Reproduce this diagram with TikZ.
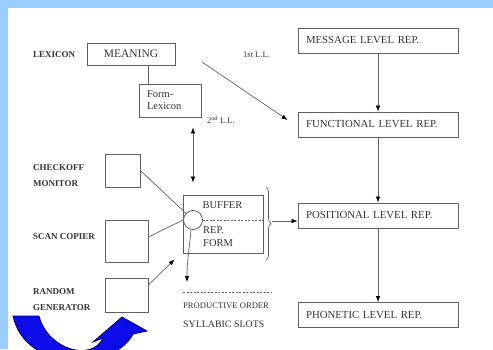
\documentclass[tikz,border=0pt]{standalone}
\usepackage{fontspec}
\setmainfont{Liberation Serif}
\usetikzlibrary{arrows.meta,calc,decorations.pathreplacing,positioning}

\definecolor{skyback}{RGB}{153,204,255}
\definecolor{turnblue}{RGB}{12,12,235}
\definecolor{turnedge}{RGB}{0,0,110}
\definecolor{inkgray}{RGB}{95,95,95}

\begin{document}
\begin{tikzpicture}[x=1pt, y=-1pt, every node/.style={text=black!80},
  lvlbox/.style={draw=inkgray, line width=0.8pt, text width=144pt, inner xsep=8pt, inner ysep=0pt,
    minimum height=25pt, align=left, font=\fontsize{10.8}{12}\selectfont},
  sidebox/.style={draw=inkgray, line width=0.8pt, inner sep=0pt},
  sidelbl/.style={anchor=west, align=left, inner sep=0pt, font=\bfseries\fontsize{9}{16}\selectfont},
  plain/.style={anchor=west, inner sep=0pt},
  link/.style={draw=inkgray, line width=0.7pt},
  arr/.style={link, -{Latex[length=6pt,width=4.5pt,color=black]}}]
  \useasboundingbox (0,0) rectangle (493,349);
  \fill[skyback] (0,0) rectangle (493,349);
  \fill[white] (8,8) rectangle (493,349);

  % levels of representation
  \node[lvlbox] (msg) at (378,40.5) {MESSAGE LEVEL REP.};
  \node[lvlbox] (func) at (378,124.5) {FUNCTIONAL LEVEL REP.};
  \node[lvlbox] (pos) at (378,215.5) {POSITIONAL LEVEL REP.};
  \node[lvlbox] (phon) at (378,315) {PHONETIC LEVEL REP.};
  \draw[arr] (msg) -- (func);
  \draw[arr] (func) -- (pos);
  \draw[arr] (pos) -- (phon);

  % lexicon
  \node[sidelbl] (lex) at (33,55) {LEXICON};
  \node[sidebox, minimum width=88pt, minimum height=22pt, font=\fontsize{11.5}{12}\selectfont] (mean) at (131,54) {MEANING};
  \node[sidebox, text width=46pt, inner xsep=8pt, minimum height=33pt, align=left,
    font=\fontsize{10.5}{12}\selectfont] (flex) at (170,100.5) {Form-\\Lexicon};
  \draw[link] ($(flex.north west)+(10,0)$) -- ($(flex.north west |- mean.south)+(10,0)$);
  \node[plain, font=\fontsize{8.5}{9}\selectfont] (ll1) at (243,55) {1st L.L.};
  \node[plain, font=\fontsize{8.5}{9}\selectfont] (ll2) at (207,120) {2\textsuperscript{nd} L.L.};
  \coordinate (ll1s) at (202,62);
  \draw[arr] (ll1s) -- ($(func.west)+(-10,-4.5)$);

  % monitors
  \node[sidebox, minimum width=35pt, minimum height=33pt] (chk) at (122.5,170.5) {};
  \node[sidebox, minimum width=43pt, minimum height=42pt] (scan) at (126.5,241) {};
  \node[sidebox, minimum width=43pt, minimum height=34pt] (rnd) at (126.5,295) {};
  \node[sidelbl] (chklbl) at (33,175.5) {CHECKOFF\\MONITOR};
  \node[sidelbl] (scanlbl) at (33,237) {SCAN COPIER};
  \node[sidelbl] (rndlbl) at (33,300) {RANDOM\\GENERATOR};

  % buffer
  \node[sidebox, minimum width=80pt, minimum height=58pt] (buf) at (223,224) {};
  \node[circle, draw=inkgray, line width=0.8pt, fill=white, minimum size=19pt, inner sep=0pt] (circ) at (193,220) {};
  \node[inner sep=0pt, font=\fontsize{10.5}{12}\selectfont] (bufl) at (222.5,205) {BUFFER};
  \node[plain, align=left, font=\fontsize{10.5}{13}\selectfont] (repl) at (203,236.5) {REP.\\FORM};
  \draw[link, dash pattern=on 2pt off 1.5pt] (circ.east) -- (circ.east -| buf.east);
  \coordinate (brt) at (266,187);
  \coordinate (brb) at (266,260);
  \draw[link, decorate, decoration={brace, amplitude=5pt}] (brt) -- (brb);
  \coordinate (brtip) at (272,221);
  \draw[arr] (brtip) -- (brtip -| pos.west);
  \draw[link, {Latex[length=6pt,width=4.5pt,color=black]}-{Latex[length=6pt,width=4.5pt,color=black]}]
    ($(circ |- flex.south)+(0,10)$) -- ($(circ |- buf.north)+(0,-12)$);
  \draw[link] (chk.east) -- (circ);
  \draw[link] ($(scan.east)+(0,-4)$) -- (circ.west);
  \draw[arr] ($(rnd.east)+(0,-10)$) -- ($(buf.south west)+(-8,6)$);

  % output slots
  \coordinate (dl) at (183,292);
  \coordinate (dr) at (272,292);
  \draw[link, dash pattern=on 2pt off 1.5pt] (dl) -- (dr);
  \draw[arr] ($(circ.south)+(-2,0)$) to[out=-95, in=90] ($(dl)+(4,-10)$);
  \node[plain, font=\fontsize{8.6}{10}\selectfont] (prod) at (183,306) {PRODUCTIVE ORDER};
  \node[plain, font=\fontsize{9.9}{11}\selectfont] (slots) at (183,324) {SYLLABIC SLOTS};

  % blue turn arrow
  \begin{scope}
    \clip (0,0) rectangle (493,349);
    \filldraw[fill=turnblue, draw=turnedge, line width=0.8pt]
      (13,316) -- (39,316) .. controls (48,350) and (92,362) .. (103,338)
      -- (93,342) -- (122,317) -- (147,331) -- (133,334)
      .. controls (115,370) and (26,374) .. (13,316) -- cycle;
  \end{scope}
\end{tikzpicture}
\end{document}
